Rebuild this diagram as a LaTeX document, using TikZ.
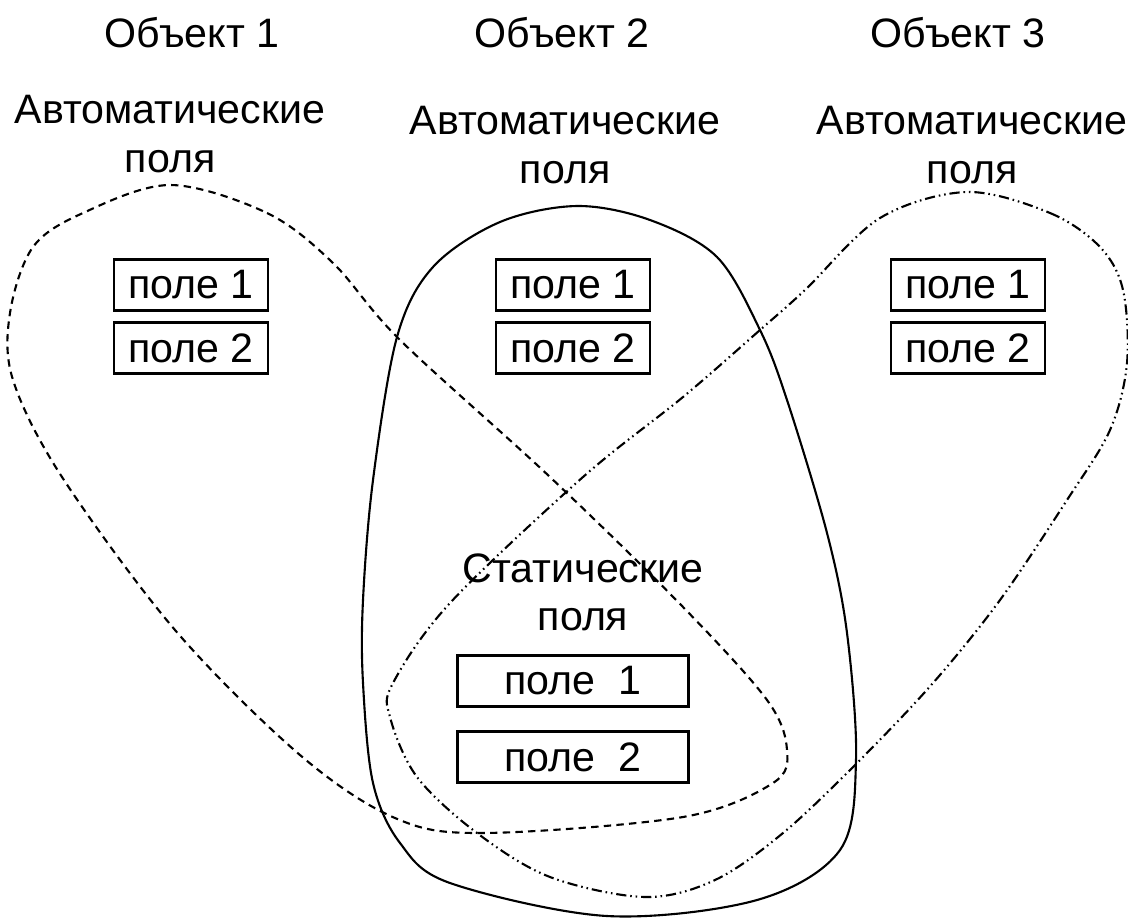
\documentclass[tikz,border=0pt]{standalone}
\usepackage{fontspec}
\setmainfont{Liberation Sans}
\tikzset{
	field/.style={draw, line width=0.75pt, inner sep=0pt, minimum width=1.54cm, minimum height=0.51cm},
	sfield/.style={field, minimum width=2.31cm},
	title/.style={align=center, font=\fontsize{11.7}{13.7}\selectfont},
	dashdotdot/.style={dash pattern=on 2.9pt off 1.1pt on 0.45pt off 1.1pt on 0.45pt off 1.1pt}
}
\begin{document}
\begin{tikzpicture}[x=0.01cm, y=-0.01cm, line width=0.6pt, every node/.style={font=\fontsize{11.7}{13.7}\selectfont}]
		\useasboundingbox (0,0) rectangle (1128,918);
		%object titles
		\node (obj1) at (192,33) {Объект 1};
		\node (obj2) at (562,33) {Объект 2};
		\node (obj3) at (958,33) {Объект 3};
		%automatic fields
		\node[title] (auto1) at (170,134) {Автоматические\\поля};
		\node[title] (auto2) at (565,145) {Автоматические\\поля};
		\node[title] (auto3) at (972,145) {Автоматические\\поля};
		\node[field] (f11) at (191,285) {поле 1};
		\node[field] (f12) at (191,348) {поле 2};
		\node[field] (f21) at (573,285) {поле 1};
		\node[field] (f22) at (573,348) {поле 2};
		\node[field] (f31) at (968,285) {поле 1};
		\node[field] (f32) at (968,348) {поле 2};
		%static fields
		\node[title] (stat) at (583,592) {Статические\\поля};
		\node[sfield] (s1) at (573,681) {поле\ \ 1};
		\node[sfield] (s2) at (573,757) {поле\ \ 2};
		%object 1 (dashed)
		\draw[dash pattern=on 2.1pt off 1.5pt] plot[smooth cycle, tension=0.55] coordinates {
			(170,185) (267,213) (333,263) (400,340) (550,477) (683,607) (767,700) (787,750)
			(773,783) (683,817) (483,833) (395,818) (300,755) (175,630) (62,477) (13,380)
			(10,313) (33,247) (83,213)};
		%object 2 (solid)
		\draw plot[smooth cycle, tension=0.55] coordinates {
			(577,206) (650,220) (717,257) (760,330) (787,400) (827,533) (847,633) (856,760)
			(840,850) (757,900) (607,916) (450,883) (400,843) (373,783) (363,683) (363,600)
			(373,480) (397,337) (433,267) (500,222)};
		%object 3 (dash dot dot)
		\draw[dashdotdot] plot[smooth cycle, tension=0.55] coordinates {
			(967,192) (1050,213) (1100,247) (1123,290) (1127,363) (1110,430) (1067,500)
			(1000,600) (933,683) (857,763) (783,833) (715,880) (645,897) (550,877) (477,833)
			(417,777) (390,717) (393,683) (450,603) (583,477) (683,397) (760,330) (805,290)
			(880,218)};
	\end{tikzpicture}
\end{document}
